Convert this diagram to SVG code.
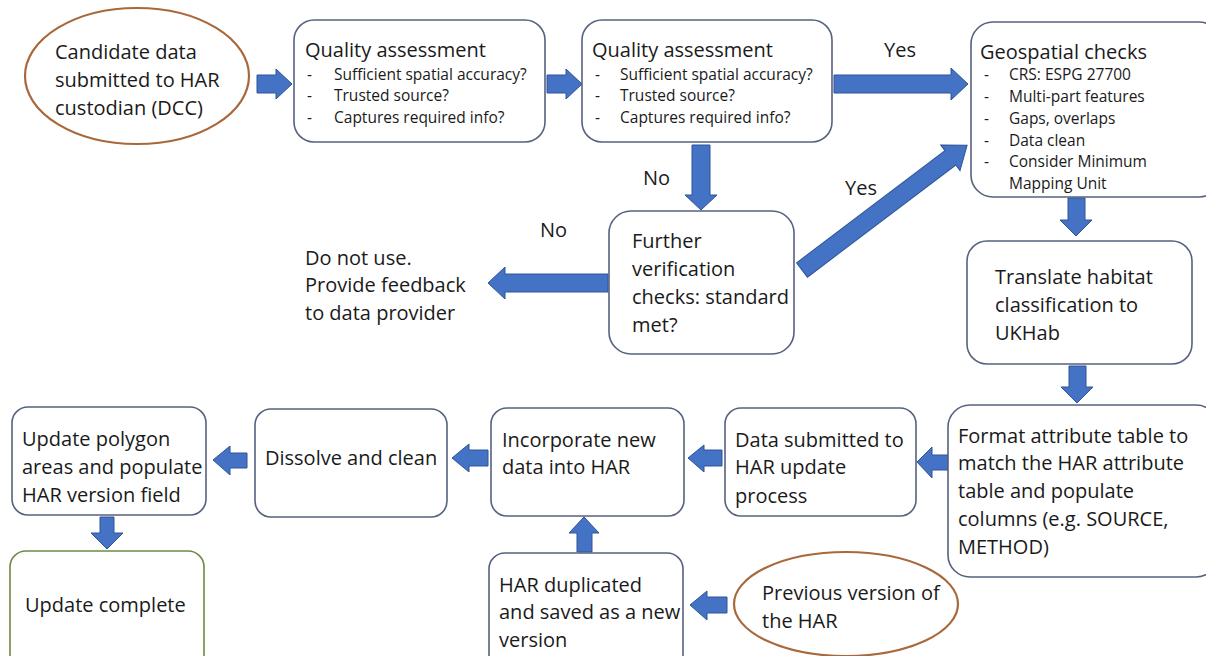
<svg xmlns="http://www.w3.org/2000/svg" width="1206" height="656" viewBox="0 0 1206 656">
<style>
.box{fill:#fff;stroke:#56627f;stroke-width:1.6}
.green{fill:#fff;stroke:#6f8a45;stroke-width:1.6}
.ell{fill:#fff;stroke:#a9683a;stroke-width:2.2}
.arr{fill:#4472c4;stroke:#2f5597;stroke-width:1}
text{font-family:"Open Sans","Liberation Sans",sans-serif;fill:#1a1a1a}
.t{font-size:20px}
.b{font-size:15.5px}
</style>
<rect width="1206" height="656" fill="#fff"/>
<g id="connectors">
<polygon class="arr" points="257,75 276,75 276,69 292,84 276,99 276,93 257,93"/>
<polygon class="arr" points="547,75 566,75 566,69 582,84 566,99 566,93 547,93"/>
<polygon class="arr" points="834,75 951,75 951,68 968,84 951,100 951,93 834,93"/>
<polygon class="arr" points="692,145 710,145 710,195 717,195 701,210 685,195 692,195"/>
<polygon class="arr" transform="translate(802,270) rotate(-37.1)" points="0,-9 186,-9 186,-16 207,0 186,16 186,9 0,9"/>
<polygon class="arr" points="608,274 505,274 505,267 488,283 505,299 505,292 608,292"/>
<polygon class="arr" points="1068,198 1085,198 1085,220 1092,220 1076,236 1060,220 1068,220"/>
<polygon class="arr" points="1069,366 1086,366 1086,387 1093,387 1077,403 1061,387 1069,387"/>
<polygon class="arr" points="948,455 932,455 932,447 917,462 932,478 932,470 948,470"/>
<polygon class="arr" points="722,450 704,450 704,445 688,458 704,472 704,466 722,466"/>
<polygon class="arr" points="488,450 469,450 469,444 452,458 469,472 469,466 488,466"/>
<polygon class="arr" points="247,453 230,453 230,446 213,460 230,475 230,468 247,468"/>
<polygon class="arr" points="100,517 114,517 114,533 123,533 107,549 91,533 100,533"/>
<polygon class="arr" points="577,552 592,552 592,533 599,533 584,517 569,533 577,533"/>
<polygon class="arr" points="727,597 707,597 707,591 690,605 707,620 707,613 727,613"/>
</g>
<g id="labels">
<text class="t" x="884" y="57">Yes</text>
<text class="t" x="643" y="185">No</text>
<text class="t" x="845" y="195">Yes</text>
<text class="t" x="540" y="237">No</text>
</g>
<g id="n-candidate">
<ellipse class="ell" cx="137" cy="76" rx="112" ry="68"/>
<text class="t" x="55" y="59">Candidate data</text>
<text class="t" x="55" y="87">submitted to HAR</text>
<text class="t" x="55" y="115">custodian (DCC)</text>
</g>
<g id="n-qa1">
<rect class="box" x="294" y="20" width="251" height="122" rx="20"/>
<text class="t" x="305" y="57">Quality assessment</text>
<text class="b" x="307" y="80">-</text><text class="b" x="334" y="80">Sufficient spatial accuracy?</text>
<text class="b" x="307" y="101">-</text><text class="b" x="334" y="101">Trusted source?</text>
<text class="b" x="307" y="123">-</text><text class="b" x="334" y="123">Captures required info?</text>
</g>
<g id="n-qa2">
<rect class="box" x="582" y="20" width="250" height="122" rx="20"/>
<text class="t" x="592" y="57">Quality assessment</text>
<text class="b" x="595" y="80">-</text><text class="b" x="620" y="80">Sufficient spatial accuracy?</text>
<text class="b" x="595" y="101">-</text><text class="b" x="620" y="101">Trusted source?</text>
<text class="b" x="595" y="123">-</text><text class="b" x="620" y="123">Captures required info?</text>
</g>
<g id="n-geo">
<rect class="box" x="971" y="22" width="250" height="175" rx="22"/>
<text class="t" x="980" y="59">Geospatial checks</text>
<text class="b" x="984" y="80">-</text><text class="b" x="1009" y="80">CRS: ESPG 27700</text>
<text class="b" x="984" y="102">-</text><text class="b" x="1009" y="102">Multi-part features</text>
<text class="b" x="984" y="124">-</text><text class="b" x="1009" y="124">Gaps, overlaps</text>
<text class="b" x="984" y="146">-</text><text class="b" x="1009" y="146">Data clean</text>
<text class="b" x="984" y="167">-</text><text class="b" x="1009" y="167">Consider Minimum</text>
<text class="b" x="1009" y="189">Mapping Unit</text>
</g>
<g id="n-further">
<rect class="box" x="609" y="211" width="185" height="143" rx="22"/>
<text class="t" x="632" y="248">Further</text>
<text class="t" x="632" y="276">verification</text>
<text class="t" x="632" y="304">checks: standard</text>
<text class="t" x="632" y="332">met?</text>
</g>
<g id="n-donotuse">
<text class="t" x="305" y="265">Do not use.</text>
<text class="t" x="305" y="292">Provide feedback</text>
<text class="t" x="305" y="320">to data provider</text>
</g>
<g id="n-translate">
<rect class="box" x="967" y="241" width="225" height="123" rx="20"/>
<text class="t" x="995" y="284">Translate habitat</text>
<text class="t" x="995" y="312">classification to</text>
<text class="t" x="995" y="340">UKHab</text>
</g>
<g id="n-format">
<rect class="box" x="948" y="405" width="270" height="172" rx="22"/>
<text class="t" x="958" y="443">Format attribute table to</text>
<text class="t" x="958" y="470">match the HAR attribute</text>
<text class="t" x="958" y="498">table and populate</text>
<text class="t" x="958" y="526">columns (e.g. SOURCE,</text>
<text class="t" x="958" y="554">METHOD)</text>
</g>
<g id="n-datasub">
<rect class="box" x="725" y="408" width="191" height="108" rx="16"/>
<text class="t" x="735" y="447">Data submitted to</text>
<text class="t" x="735" y="474">HAR update</text>
<text class="t" x="735" y="503">process</text>
</g>
<g id="n-incorporate">
<rect class="box" x="491" y="408" width="193" height="108" rx="16"/>
<text class="t" x="502" y="447">Incorporate new</text>
<text class="t" x="502" y="474">data into HAR</text>
</g>
<g id="n-dissolve">
<rect class="box" x="255" y="409" width="192" height="108" rx="16"/>
<text class="t" x="265" y="465">Dissolve and clean</text>
</g>
<g id="n-updatepoly">
<rect class="box" x="12" y="407" width="194" height="108" rx="16"/>
<text class="t" x="22" y="446">Update polygon</text>
<text class="t" x="22" y="474">areas and populate</text>
<text class="t" x="22" y="502">HAR version field</text>
</g>
<g id="n-complete">
<rect class="green" x="10" y="551" width="194" height="125" rx="16"/>
<text class="t" x="25" y="612">Update complete</text>
</g>
<g id="n-duplicated">
<rect class="box" x="489" y="553" width="194" height="125" rx="16"/>
<text class="t" x="499" y="592">HAR duplicated</text>
<text class="t" x="499" y="619">and saved as a new</text>
<text class="t" x="499" y="647">version</text>
</g>
<g id="n-previous">
<ellipse class="ell" cx="846" cy="604" rx="112" ry="52"/>
<text class="t" x="762" y="600">Previous version of</text>
<text class="t" x="762" y="628">the HAR</text>
</g>
</svg>
